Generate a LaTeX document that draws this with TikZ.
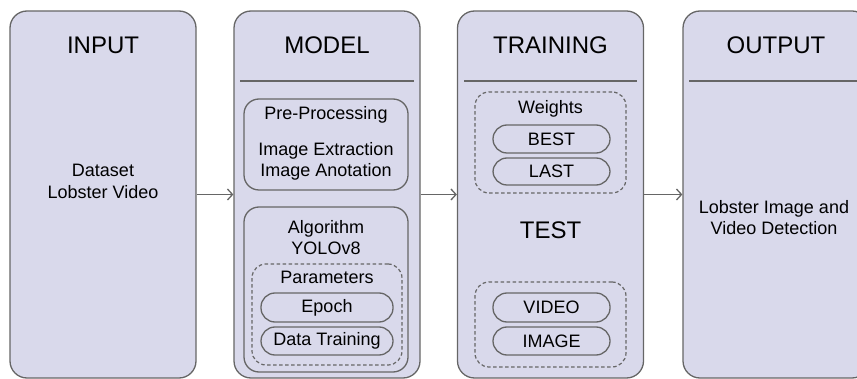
\documentclass[tikz,border=0pt]{standalone}
\usepackage{fontspec}
\setmainfont{Liberation Sans}
\usetikzlibrary{arrows.meta}
\definecolor{panelfill}{HTML}{D9D9EB}
\definecolor{linegray}{HTML}{666666}
\begin{document}
\begin{tikzpicture}[x=1pt,y=-1pt]
				\tikzstyle{Panel} = [draw=linegray, line width=1.3pt, fill=panelfill, rounded corners=17pt, minimum width=186pt, minimum height=367pt, inner sep=0pt]
				\tikzstyle{Inner} = [draw=linegray, line width=1.3pt, rounded corners=15pt, inner sep=0pt]
				\tikzstyle{Dash} = [draw=linegray, line width=1.2pt, dash pattern=on 3.5pt off 2.5pt, rounded corners=14pt, inner sep=0pt]
				\tikzstyle{Pill} = [draw=linegray, line width=1.3pt, rounded corners=14pt, inner sep=0pt, font=\fontsize{18}{21}\selectfont]
				\tikzstyle{Heading} = [font=\fontsize{24}{28}\selectfont, inner sep=0pt]
				\tikzstyle{Body} = [font=\fontsize{18}{21.5}\selectfont, align=center, inner sep=0pt]
				\tikzstyle{Arrow} = [draw=linegray, line width=1.3pt, -{Straight Barb[length=5pt, width=11pt]}]
				\useasboundingbox (0,0) rectangle (857,379);
				\node (input) at (103,194.5) [Panel] {};
				\node (model) at (327,194.5) [Panel] {};
				\node (training) at (550.5,194.5) [Panel] {};
				\node (output) at (776,194.5) [Panel] {};
				\draw[linegray, line width=1.3pt] (240,81) -- (414,81);
				\draw[linegray, line width=1.3pt] (464,81) -- (637,81);
				\draw[linegray, line width=1.3pt] (689,81) -- (862,81);
				\node (inputT) at (103,45) [Heading] {INPUT};
				\node (modelT) at (327,45) [Heading] {MODEL};
				\node (trainingT) at (550.5,45) [Heading] {TRAINING};
				\node (outputT) at (776,45) [Heading] {OUTPUT};
				\node (dataset) at (103,181.5) [Body] {Dataset\\Lobster Video};
				\node (pre) at (326,144.5) [Inner, minimum width=164pt, minimum height=91pt] {};
				\node (preT) at (326,115) [Body] {Pre-Processing};
				\node (preL) at (326,161.5) [Body] {Image Extraction\\Image Anotation};
				\node (algo) at (326,289.5) [Inner, minimum width=164pt, minimum height=165pt] {};
				\node (algoT) at (326,237.5) [Body] {Algorithm\\YOLOv8};
				\node (param) at (327,314.5) [Dash, minimum width=150pt, minimum height=101pt] {};
				\node (paramT) at (327,277) [Body] {Parameters};
				\node (epoch) at (327,307.5) [Pill, minimum width=132pt, minimum height=29pt] {Epoch};
				\node (data) at (327,341) [Pill, minimum width=132pt, minimum height=28pt] {Data Training};
				\node (weights) at (550.5,142.5) [Dash, minimum width=151pt, minimum height=101pt] {};
				\node (weightsT) at (550.5,109) [Body] {Weights};
				\node (best) at (551.5,139) [Pill, minimum width=117pt, minimum height=28pt] {BEST};
				\node (last) at (551.5,171.5) [Pill, minimum width=117pt, minimum height=27pt] {LAST};
				\node (test) at (550.5,230) [Heading] {TEST};
				\node (testbox) at (550.5,324.5) [Dash, minimum width=151pt, minimum height=85pt] {};
				\node (video) at (551.5,307.5) [Pill, minimum width=117pt, minimum height=29pt] {VIDEO};
				\node (image) at (551.5,341) [Pill, minimum width=117pt, minimum height=28pt] {IMAGE};
				\node (result) at (774,217.5) [Body] {Lobster Image and\\Video Detection};
				\draw[Arrow] (input) -- (model);
				\draw[Arrow] (model) -- (training);
				\draw[Arrow] (training) -- (output);
			\end{tikzpicture}
\end{document}
